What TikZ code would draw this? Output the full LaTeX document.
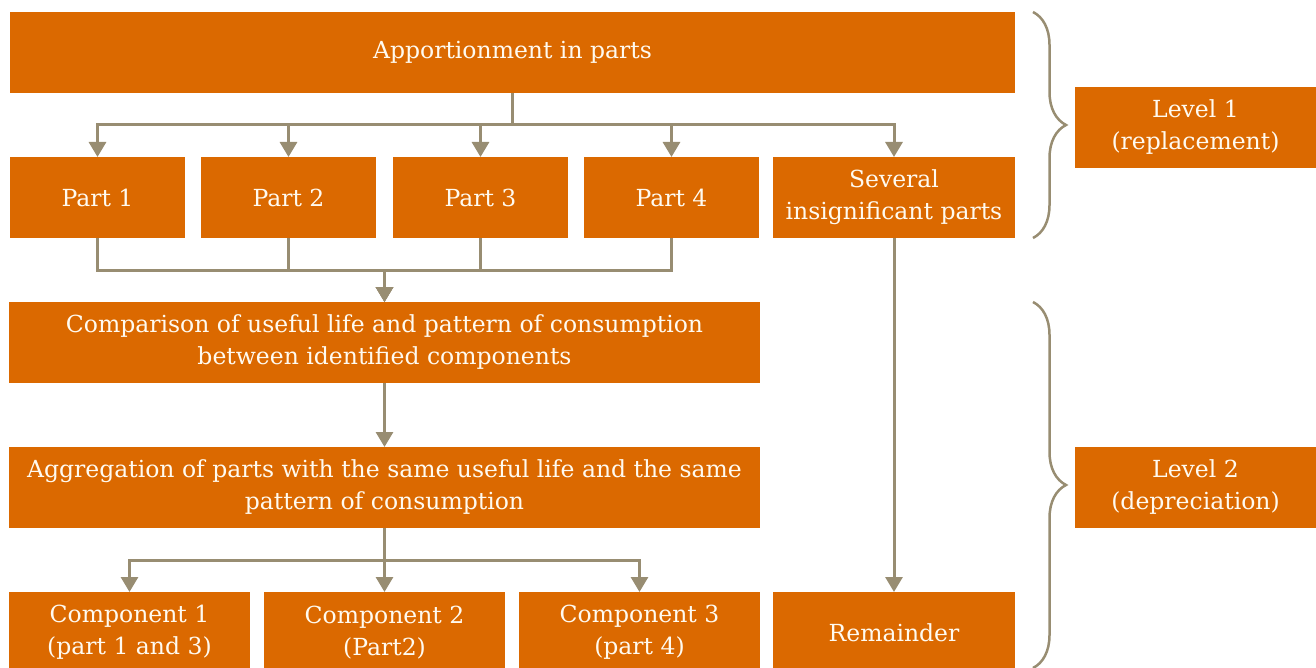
\documentclass[tikz,border=0pt]{standalone}
\usepackage{fontspec}
\setmainfont{DejaVu Serif}
\usetikzlibrary{arrows.meta,decorations.pathreplacing}
\definecolor{boxorange}{RGB}{219,105,0}
\definecolor{linkgray}{RGB}{152,141,114}
\definecolor{boxtext}{RGB}{255,250,240}

\begin{document}
\begin{tikzpicture}[x=1pt, y=-1pt,
    box/.style={fill=boxorange, text=boxtext, inner sep=0pt, outer sep=0pt,
        minimum height=81pt, align=center, font=\fontsize{23.5}{32}\selectfont},
    link/.style={draw=linkgray, line width=3pt},
    arr/.style={link, -{Triangle[length=15pt, width=17pt]}},
    levelbrace/.style={draw=linkgray, line width=2.5pt, decorate,
        decoration={brace, amplitude=33pt}}]
                % Frame of the picture
                \useasboundingbox (0,0) rectangle (1316,668);
                \clip (0,0) rectangle (1316,668);

                % Top box
                \node[box, minimum width=1005pt] (app) at (512.5,52.5) {Apportionment in parts};

                % Parts row
                \node[box, minimum width=175pt] (p1) at (97.5,197.5) {Part 1};
                \node[box, minimum width=175pt] (p2) at (288.5,197.5) {Part 2};
                \node[box, minimum width=175pt] (p3) at (480.5,197.5) {Part 3};
                \node[box, minimum width=175pt] (p4) at (671.5,197.5) {Part 4};
                \node[box, minimum width=242pt] (sev) at (894,197.5) {Several\\insignificant parts};

                % Comparison and aggregation
                \node[box, minimum width=751pt] (cmp) at (384.5,342.5) {Comparison of useful life and pattern of consumption\\between identified components};
                \node[box, minimum width=751pt] (agg) at (384.5,487.5) {Aggregation of parts with the same useful life and the same\\pattern of consumption};

                % Components row
                \node[box, minimum width=241pt] (c1) at (129.5,632.5) {Component 1\\(part 1 and 3)};
                \node[box, minimum width=241pt] (c2) at (384.5,632.5) {Component 2\\(Part2)};
                \node[box, minimum width=241pt] (c3) at (639.5,632.5) {Component 3\\(part 4)};
                \node[box, minimum width=242pt] (rem) at (894,632.5) {Remainder};

                % Level boxes
                \node[box, minimum width=241pt] (lv1) at (1195.5,127.5) {Level 1\\(replacement)};
                \node[box, minimum width=241pt] (lv2) at (1195.5,487.5) {Level 2\\(depreciation)};

                % Apportionment to the parts
                \foreach \p in {p1,p2,p3,p4,sev}
                    \draw[arr] (app.south) -- ++(0,32) -| (\p.north);

                % Parts to the comparison
                \foreach \p in {p1,p2,p3,p4}
                    \draw[arr] (\p.south) -- ++(0,32) -| (cmp.north);

                % Comparison to aggregation
                \draw[arr] (cmp.south) -- (agg.north);

                % Aggregation to the components
                \foreach \c in {c1,c2,c3}
                    \draw[arr] (agg.south) -- ++(0,32) -| (\c.north);

                % Insignificant parts to the remainder
                \draw[arr] (sev.south) -- (rem.north);

                % Braces for the two levels
                \draw[levelbrace] (1033,12) -- (1033,238);
                \draw[levelbrace] (1033,302) -- (1033,668);
            \end{tikzpicture}
\end{document}
